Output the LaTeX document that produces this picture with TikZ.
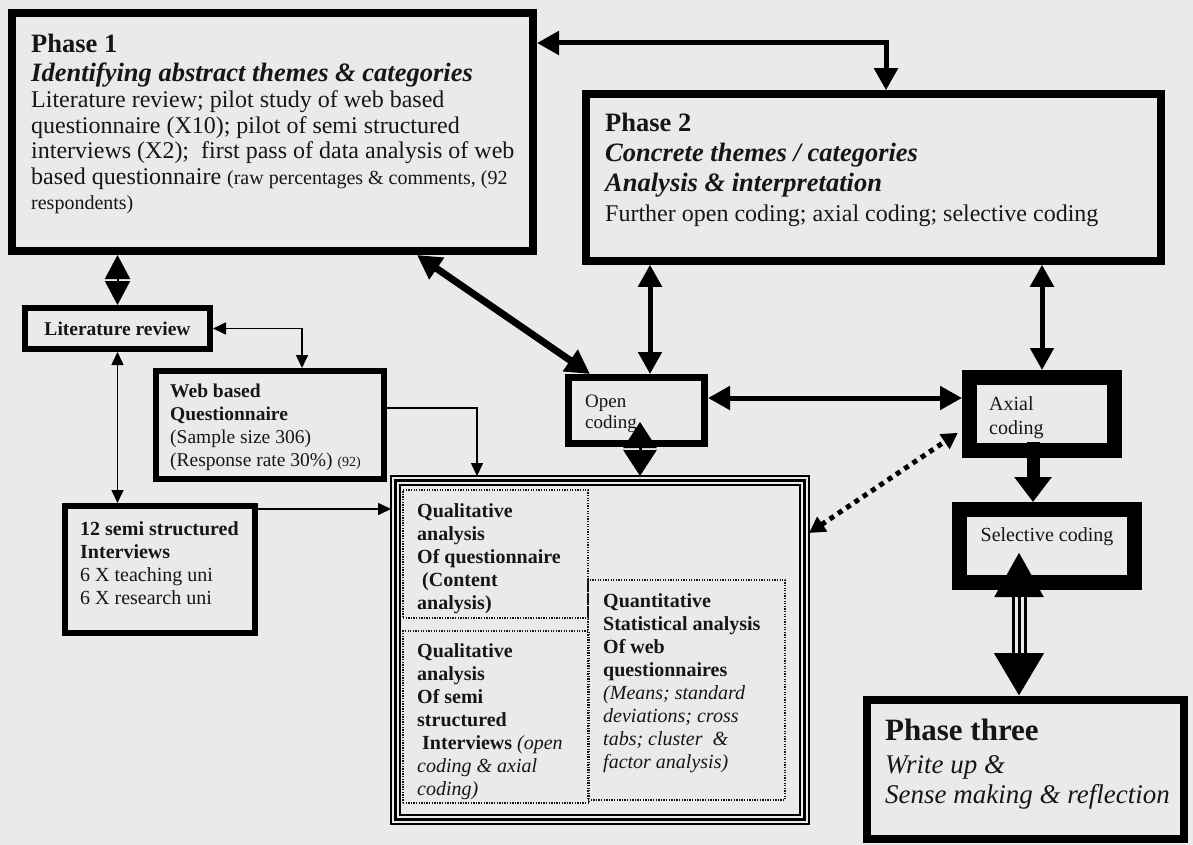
\documentclass[tikz,border=0pt]{standalone}
\usepackage{fontspec}
\setmainfont{Liberation Serif}
\usetikzlibrary{arrows.meta,calc}

\definecolor{bg}{HTML}{EAEAEA}
\definecolor{ink}{HTML}{161616}

\begin{document}
\begin{tikzpicture}[x=1pt,y=-1pt,
  box/.style={draw=black, line width=#1, rectangle, inner sep=0pt},
  dotbox/.style={draw=ink, line width=1.3pt, dash pattern=on 1.3pt off 1.3pt, rectangle, inner sep=0pt},
  txt/.style={anchor=north west, align=left, inner sep=0pt, text=ink},
  bi/.style={line width=5pt, arrows={Triangle[length=22pt,width=23pt]-Triangle[length=22pt,width=23pt]}},
  bibig/.style={line width=7pt, arrows={Triangle[length=24pt,width=25pt]-Triangle[length=24pt,width=25pt]}},
  thinbi/.style={line width=1.6pt, arrows={Triangle[length=13pt,width=12pt]-Triangle[length=13pt,width=12pt]}},
  thinfw/.style={line width=1.6pt, arrows={-Triangle[length=13pt,width=12pt]}},
  fat/.style={line width=13pt, arrows={-Triangle[length=25pt,width=36pt]}},
  dotarr/.style={line width=5pt, dash pattern=on 5pt off 5pt, arrows={Triangle[length=16pt,width=17pt]-Triangle[length=16pt,width=17pt]}},
  diam/.style={line width=#1, arrows={Triangle[length=24pt,width=25pt]-Triangle[length=24pt,width=25pt]}},
]
\fill[bg] (0,0) rectangle (1193,845);
\useasboundingbox (0,0) rectangle (1193,845);

% ---------- boxes ----------
\node[box=8pt, minimum width=521pt, minimum height=238pt] (p1) at (272.5,132) {};
\node[box=7.5pt, minimum width=575pt, minimum height=167pt] (p2) at (873.5,177.5) {};
\node[box=6pt, minimum width=185pt, minimum height=41pt, text=ink,
      font=\bfseries\fontsize{19.5}{22}\selectfont] (lit) at (117.5,328.5) {Literature review};
\node[box=6pt, minimum width=228pt, minimum height=108pt] (web) at (270,425) {};
\node[box=6pt, minimum width=190pt, minimum height=127pt] (semi) at (160,569.5) {};

% analysis container with a triple border
\node[draw, line width=1.5pt, outer sep=0pt, inner sep=0pt,
      minimum width=418pt, minimum height=348pt] (cont) at (600,650) {};
\draw[line width=2.5pt] ([shift={(4.5pt,-4.5pt)}]cont.north west) rectangle ([shift={(-4.5pt,4.5pt)}]cont.south east);
\draw[line width=1.2pt] ([shift={(9pt,-9pt)}]cont.north west) rectangle ([shift={(-9pt,9pt)}]cont.south east);

\node[dotbox, minimum width=185pt, minimum height=128pt] (qa) at (495.5,554) {};
\node[dotbox, minimum width=186pt, minimum height=172pt] (qb) at (496,717) {};
\node[dotbox, minimum width=197pt, minimum height=220pt] (qc) at (686.5,690) {};

\node[box=7pt, minimum width=136pt, minimum height=66pt] (oc) at (636.5,410.5) {};
\node[box=15pt, minimum width=145pt, minimum height=73pt] (ax) at (1042,414) {};
\node[box=15pt, minimum width=175pt, minimum height=73pt] (sel) at (1047,546) {};
\node[box=8pt, minimum width=317pt, minimum height=139pt] (p3) at (1025.5,769.5) {};

% ---------- texts ----------
\node[txt, font=\fontsize{24}{25.5}\selectfont] (p1t) at (31,34) {%
  {\fontsize{26.5}{29}\selectfont\bfseries Phase 1}\\[3pt]
  {\fontsize{26.5}{29}\selectfont\bfseries\itshape Identifying abstract themes \& categories}\\[1pt]
  Literature review; pilot study of web based\\
  questionnaire (X10); pilot of semi structured\\
  interviews (X2);\ \ first pass of data analysis of web\\
  based questionnaire {\fontsize{20}{23}\selectfont (raw percentages \& comments, (92}\\
  {\fontsize{20}{23}\selectfont respondents)}};

\node[txt, font=\fontsize{24}{30}\selectfont] (p2t) at (605,113) {%
  {\fontsize{26.5}{30}\selectfont\bfseries Phase 2}\\
  {\fontsize{26.5}{30}\selectfont\bfseries\itshape Concrete themes / categories}\\
  {\fontsize{26.5}{30}\selectfont\bfseries\itshape Analysis \& interpretation}\\
  Further open coding; axial coding; selective coding};

\node[txt, font=\fontsize{19.5}{23}\selectfont] (webt) at (170,384) {%
  {\bfseries Web based}\\
  {\bfseries Questionnaire}\\
  (Sample size 306)\\
  (Response rate 30\%) {\fontsize{14}{16}\selectfont (92)}};

\node[txt, font=\fontsize{20}{23}\selectfont] (semit) at (80,521) {%
  {\bfseries 12 semi structured}\\
  {\bfseries Interviews}\\
  6 X teaching uni\\
  6 X research uni};

\node[txt, font=\bfseries\fontsize{20}{23}\selectfont] (qat) at (417,503) {%
  Qualitative\\
  analysis\\
  Of questionnaire\\
  \ (Content\\
  analysis)};

\node[txt, font=\bfseries\fontsize{20}{23}\selectfont] (qbt) at (417,643) {%
  Qualitative\\
  analysis\\
  Of semi\\
  structured\\
  \ Interviews {\mdseries\itshape (open}\\
  {\mdseries\itshape coding \& axial}\\
  {\mdseries\itshape coding)}};

\node[txt, font=\bfseries\fontsize{20}{23}\selectfont] (qct) at (603,593) {%
  Quantitative\\
  Statistical analysis\\
  Of web\\
  questionnaires\\
  {\mdseries\itshape (Means; standard}\\
  {\mdseries\itshape deviations; cross}\\
  {\mdseries\itshape tabs; cluster\ \ \&}\\
  {\mdseries\itshape factor analysis)}};

\node[txt, font=\fontsize{19}{21}\selectfont] (oct) at (585,395) {Open\\coding};
\node[txt, font=\fontsize{20}{24}\selectfont] (axt) at (989,396) {Axial\\coding};
\node[inner sep=0pt, text=ink, font=\fontsize{20}{23}\selectfont] (selt) at (1047,537) {Selective coding};

\node[txt, font=\fontsize{27}{30}\selectfont] (p3t) at (885,719) {%
  {\fontsize{31}{35}\selectfont\bfseries Phase three}\\[3pt]
  {\itshape Write up \&}\\
  {\itshape Sense making \& reflection}};

% ---------- connectors ----------
\draw[bi] ([yshift=-34pt]p1.north east) -| ([xshift=303.75pt]p2.north west);
\draw[diam=2pt] (p1.south -| lit.north) -- (lit.north);
\draw[thinbi] (lit.east) -| ([xshift=149pt]web.north west);
\draw[thinbi] (lit.south) -- (lit.south |- semi.north);
\draw[thinfw] ([yshift=17pt]web.east) -| ([xshift=86pt]cont.north west);
\coordinate (semiout) at ([yshift=-6pt]semi.north east);
\draw[thinfw] (semiout) -- (semiout -| cont.west);

\draw[bibig] ([xshift=409pt]p1.south west) -- ([xshift=25pt]oc.north west);
\coordinate (ocn) at ([xshift=13.5pt]oc.north);
\draw[bi] (ocn |- p2.south) -- (ocn);
\coordinate (oce) at ([yshift=12.5pt]oc.east);
\draw[bi] (oce) -- (oce -| ax.west);
\draw[bi] (ax.north |- p2.south) -- (ax.north);

\coordinate (axs) at ([xshift=-9pt,yshift=16pt]ax.south);
\draw[fat] (axs) -- (axs |- sel.north);

% triple-line double arrow between selective coding and phase three
\coordinate (sp) at ([xshift=-28pt,yshift=-6pt]sel.center);
\draw[line width=15pt, arrows={Triangle[length=45pt,width=46pt]-Triangle[length=43pt,width=47pt]}] (sp) -- (sp |- p3.north);
\draw[line width=9pt, bg, shorten <=45pt, shorten >=43pt] (sp) -- (sp |- p3.north);
\draw[line width=3pt, shorten <=45pt, shorten >=43pt] (sp) -- (sp |- p3.north);

\draw[dotarr, shorten >=5pt] ([yshift=117pt]cont.east) -- ([yshift=-16pt]ax.west);

\coordinate (ocd) at ([xshift=3.5pt,yshift=-11.5pt]oc.center);
\draw[line width=3pt, arrows={Triangle[length=26pt,width=33pt]-Triangle[length=26pt,width=33pt]}] (ocd) -- (ocd |- cont.north);
\end{tikzpicture}
\end{document}
